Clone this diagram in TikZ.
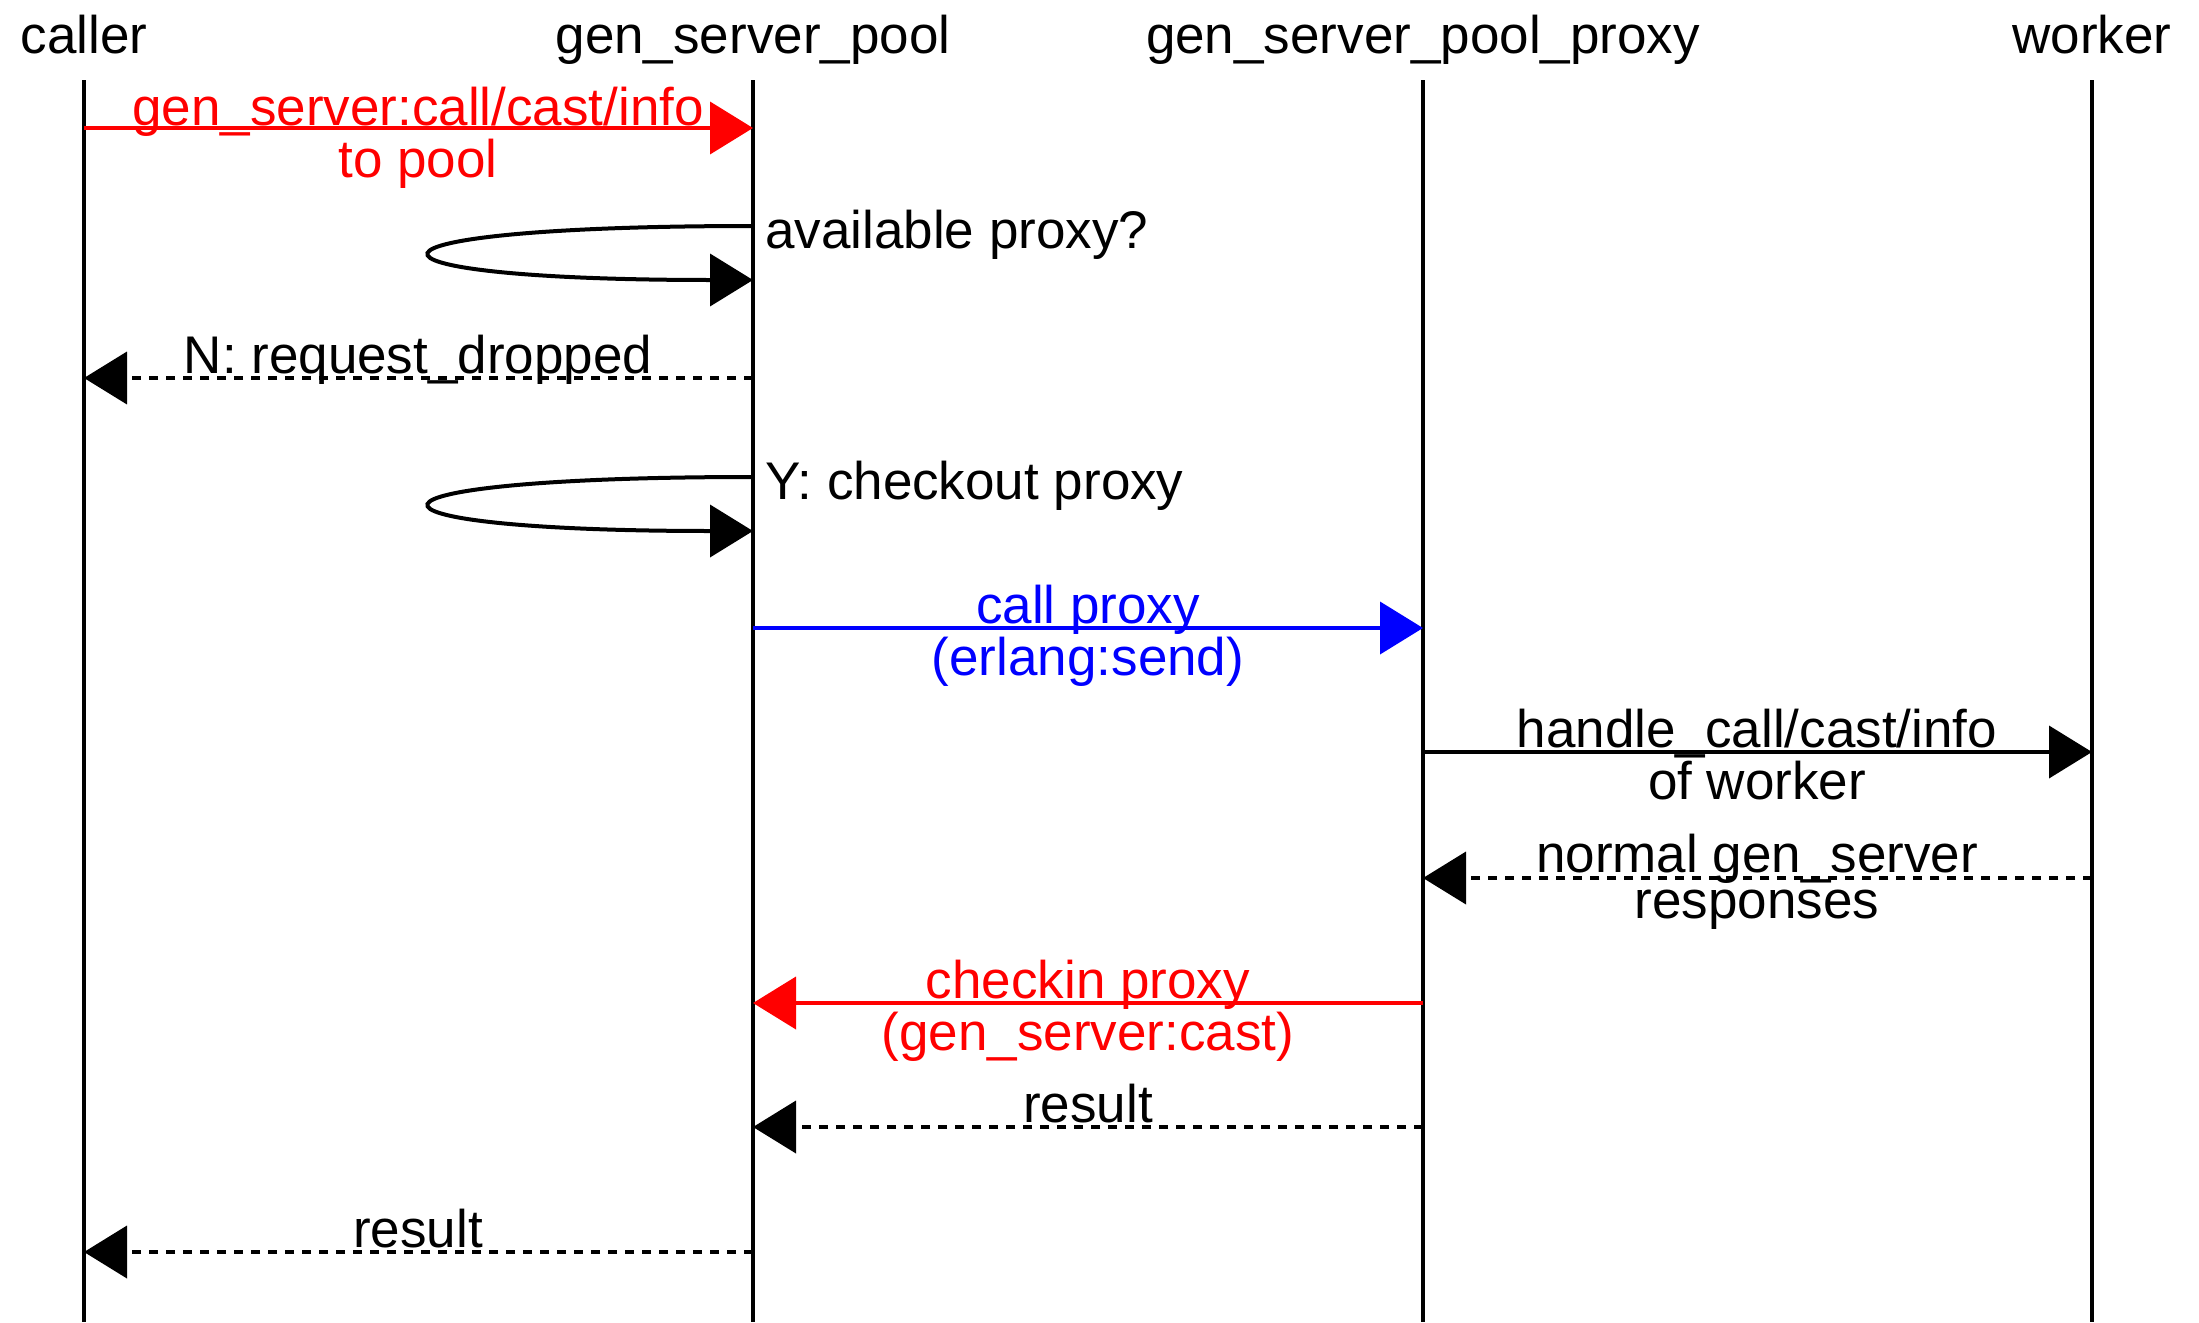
\documentclass[tikz,border=0pt]{standalone}
\usepackage{fontspec}
\setmainfont{Liberation Sans}
\usetikzlibrary{arrows.meta}
\newcommand\seqfont{\fontsize{53pt}{46pt}\selectfont}
\newcommand\twolines[2]{\begin{tabular}[t]{@{}c@{}}#1\\#2\end{tabular}}
\definecolor{msgred}{RGB}{255,0,0}
\definecolor{msgblue}{RGB}{0,0,255}
\begin{document}
\begin{tikzpicture}[x=1pt,y=-1pt,
  life/.style={line width=4pt},
  msg/.style={line width=4pt,-{Triangle[length=43pt,width=52pt]}},
  reply/.style={msg,dash pattern=on 9pt off 8pt},
  lbl/.style={inner sep=0pt,anchor=base,font=\seqfont},
  side/.style={lbl,anchor=base west}]
\useasboundingbox (0,0) rectangle (2199,1322);

% participants
\node[lbl] (hCaller) at (84,53) {caller};
\node[lbl] (hPool)   at (753,53) {gen\_server\_pool};
\node[lbl] (hProxy)  at (1423,53) {gen\_server\_pool\_proxy};
\node[lbl] (hWorker) at (2092,53) {worker};

% lifelines
\foreach \n/\x in {caller/84,pool/753,proxy/1423,worker/2092}{
  \coordinate (\n-top) at (\x,80);
  \coordinate (\n-bot) at (\x,1322);
  \draw[life] (\n-top) -- (\n-bot);
}

% message end points on the lifelines
\coordinate (c1) at (84,128);   \coordinate (p1) at (753,128);
\coordinate (p2a) at (753,226); \coordinate (p2b) at (753,280);
\coordinate (c3) at (84,378);   \coordinate (p3) at (753,378);
\coordinate (p4a) at (753,477); \coordinate (p4b) at (753,531);
\coordinate (p5) at (753,628);  \coordinate (x5) at (1423,628);
\coordinate (x6) at (1423,752); \coordinate (w6) at (2092,752);
\coordinate (x7) at (1423,878); \coordinate (w7) at (2092,878);
\coordinate (x8) at (1423,1003);\coordinate (p8) at (753,1003);
\coordinate (x9) at (1423,1127);\coordinate (p9) at (753,1127);
\coordinate (p10) at (753,1252);\coordinate (c10) at (84,1252);

% caller -> pool
\draw[msg,msgred] (c1) -- (p1);
\node[lbl,text=msgred] (m1) at (418,125) {\twolines{gen\_server:call/cast/info}{to pool}};

% pool checks for a free proxy
\draw[msg] (p2a) .. controls (326,226) and (326,280) .. (p2b);
\node[side] (m2) at (765,248) {available proxy?};

% no proxy: request dropped
\draw[reply] (p3) -- (c3);
\node[lbl] (m3) at (418,373) {N: request\_dropped};

% proxy available: check it out
\draw[msg] (p4a) .. controls (326,477) and (326,531) .. (p4b);
\node[side] (m4) at (765,499) {Y: checkout proxy};

% pool -> proxy
\draw[msg,msgblue] (p5) -- (x5);
\node[lbl,text=msgblue] (m5) at (1088,623) {\twolines{call proxy}{(erlang:send)}};

% proxy -> worker
\draw[msg] (x6) -- (w6);
\node[lbl] (m6) at (1757,747) {\twolines{handle\_call/cast/info}{of worker}};

% worker -> proxy
\draw[reply] (w7) -- (x7);
\node[lbl] (m7) at (1757,872) {\twolines{normal gen\_server}{responses}};

% proxy -> pool: checkin
\draw[msg,msgred] (x8) -- (p8);
\node[lbl,text=msgred] (m8) at (1088,998) {\twolines{checkin proxy}{(gen\_server:cast)}};

% results flow back
\draw[reply] (x9) -- (p9);
\node[lbl] (m9) at (1088,1122) {result};
\draw[reply] (p10) -- (c10);
\node[lbl] (m10) at (418,1247) {result};
\end{tikzpicture}
\end{document}
